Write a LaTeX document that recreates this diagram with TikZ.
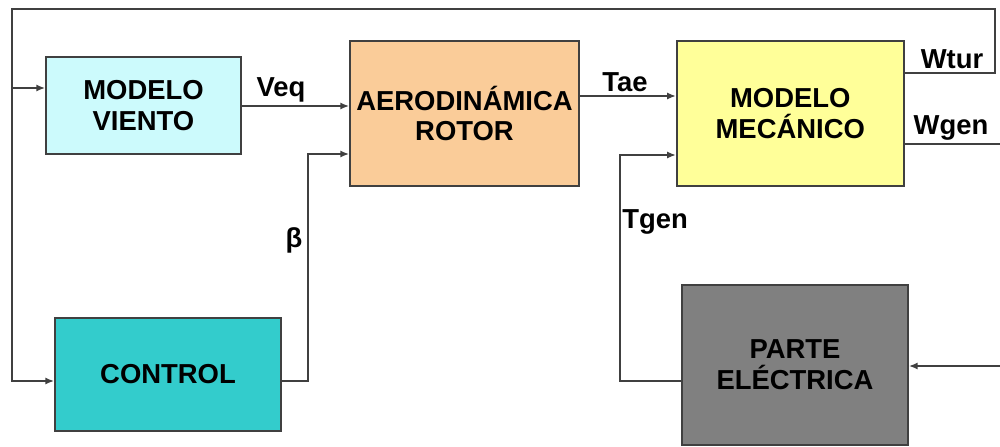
\documentclass[tikz,border=0pt]{standalone}
\usepackage{fontspec}
\setmainfont{Liberation Sans}
\usepackage{tikz}
\usetikzlibrary{arrows.meta,calc,positioning}
\definecolor{lineagris}{rgb}{0.25,0.25,0.25}
\definecolor{celeste}{rgb}{0.80,0.98,0.99}
\definecolor{melocoton}{rgb}{0.98,0.80,0.60}
\definecolor{amarillo}{rgb}{1.00,1.00,0.60}
\definecolor{turquesa}{rgb}{0.20,0.80,0.80}
\definecolor{grismedio}{rgb}{0.50,0.50,0.50}
\tikzset{
  bloque/.style={
    draw=lineagris,
    line width=1.2pt,
    align=center,
    inner sep=4pt,
    font=\fontsize{19.5}{22}\selectfont\bfseries
  },
  senal/.style={
    font=\fontsize{19.5}{22}\selectfont\bfseries
  },
  linea/.style={
    line width=1.2pt,
    lineagris
  },
  arrow/.style={
    -{Latex[length=2.2mm,width=1.8mm]},
    line width=1.2pt,
    lineagris
  }
}

\begin{document}
\begin{tikzpicture}[x=0.025cm,y=-0.025cm]
\useasboundingbox (0,0) rectangle (1000,447);
\node[bloque, fill=celeste, minimum width=4.875cm, minimum height=2.425cm] (viento) at (143.5,105.5) {MODELO\\VIENTO};
\node[bloque, fill=melocoton, minimum width=5.725cm, minimum height=3.625cm] (aero) at (464.5,113.5) {AERODIN\'AMICA\\ROTOR};
\node[bloque, fill=amarillo, minimum width=5.675cm, minimum height=3.625cm, right=2.4cm of aero] (meca) {MODELO\\MEC\'ANICO};
\node[bloque, fill=turquesa, minimum width=5.65cm, minimum height=2.825cm] (control) at (168,374.5) {CONTROL};
\node[bloque, fill=grismedio, minimum width=5.65cm, minimum height=4cm] (elec) at (795,365) {PARTE\\EL\'ECTRICA};
\coordinate (wgenfin) at (1000,144);
\coordinate (pelecin) at (1000,366);
% realimentacion de Wtur
\draw[arrow] (meca.east |- 0,73) -- (995,73) -- (995,9) -- (12,9) -- (12,381) -- (control.west |- 0,381);
\draw[arrow] (12,88) -- (viento.west |- 0,88);
% senales entre bloques
\draw[arrow] (viento.east |- 0,106) -- (aero.west |- 0,106);
\draw[arrow] (control.east |- 0,381) -- (308,381) -- (308,154) -- (aero.west |- 0,154);
\draw[arrow] (aero.east |- 0,96) -- (meca.west |- 0,96);
\draw[arrow] (elec.west |- 0,381) -- (620,381) -- (620,155) -- (meca.west |- 0,155);
\draw[linea] (meca.east |- wgenfin) -- (wgenfin);
\draw[arrow] (pelecin) -- (elec.east |- pelecin);
% etiquetas
\node[senal] (veq) at (281,90) {Veq};
\node[senal] (tae) at (625,82) {Tae};
\node[senal] (beta) at (294,240) {β};
\node[senal, anchor=west, inner sep=0pt] (tgen) at (622,222) {Tgen};
\node[senal] (wtur) at (952,59) {Wtur};
\node[senal] (wgen) at (951,128) {Wgen};
\end{tikzpicture}
\end{document}
